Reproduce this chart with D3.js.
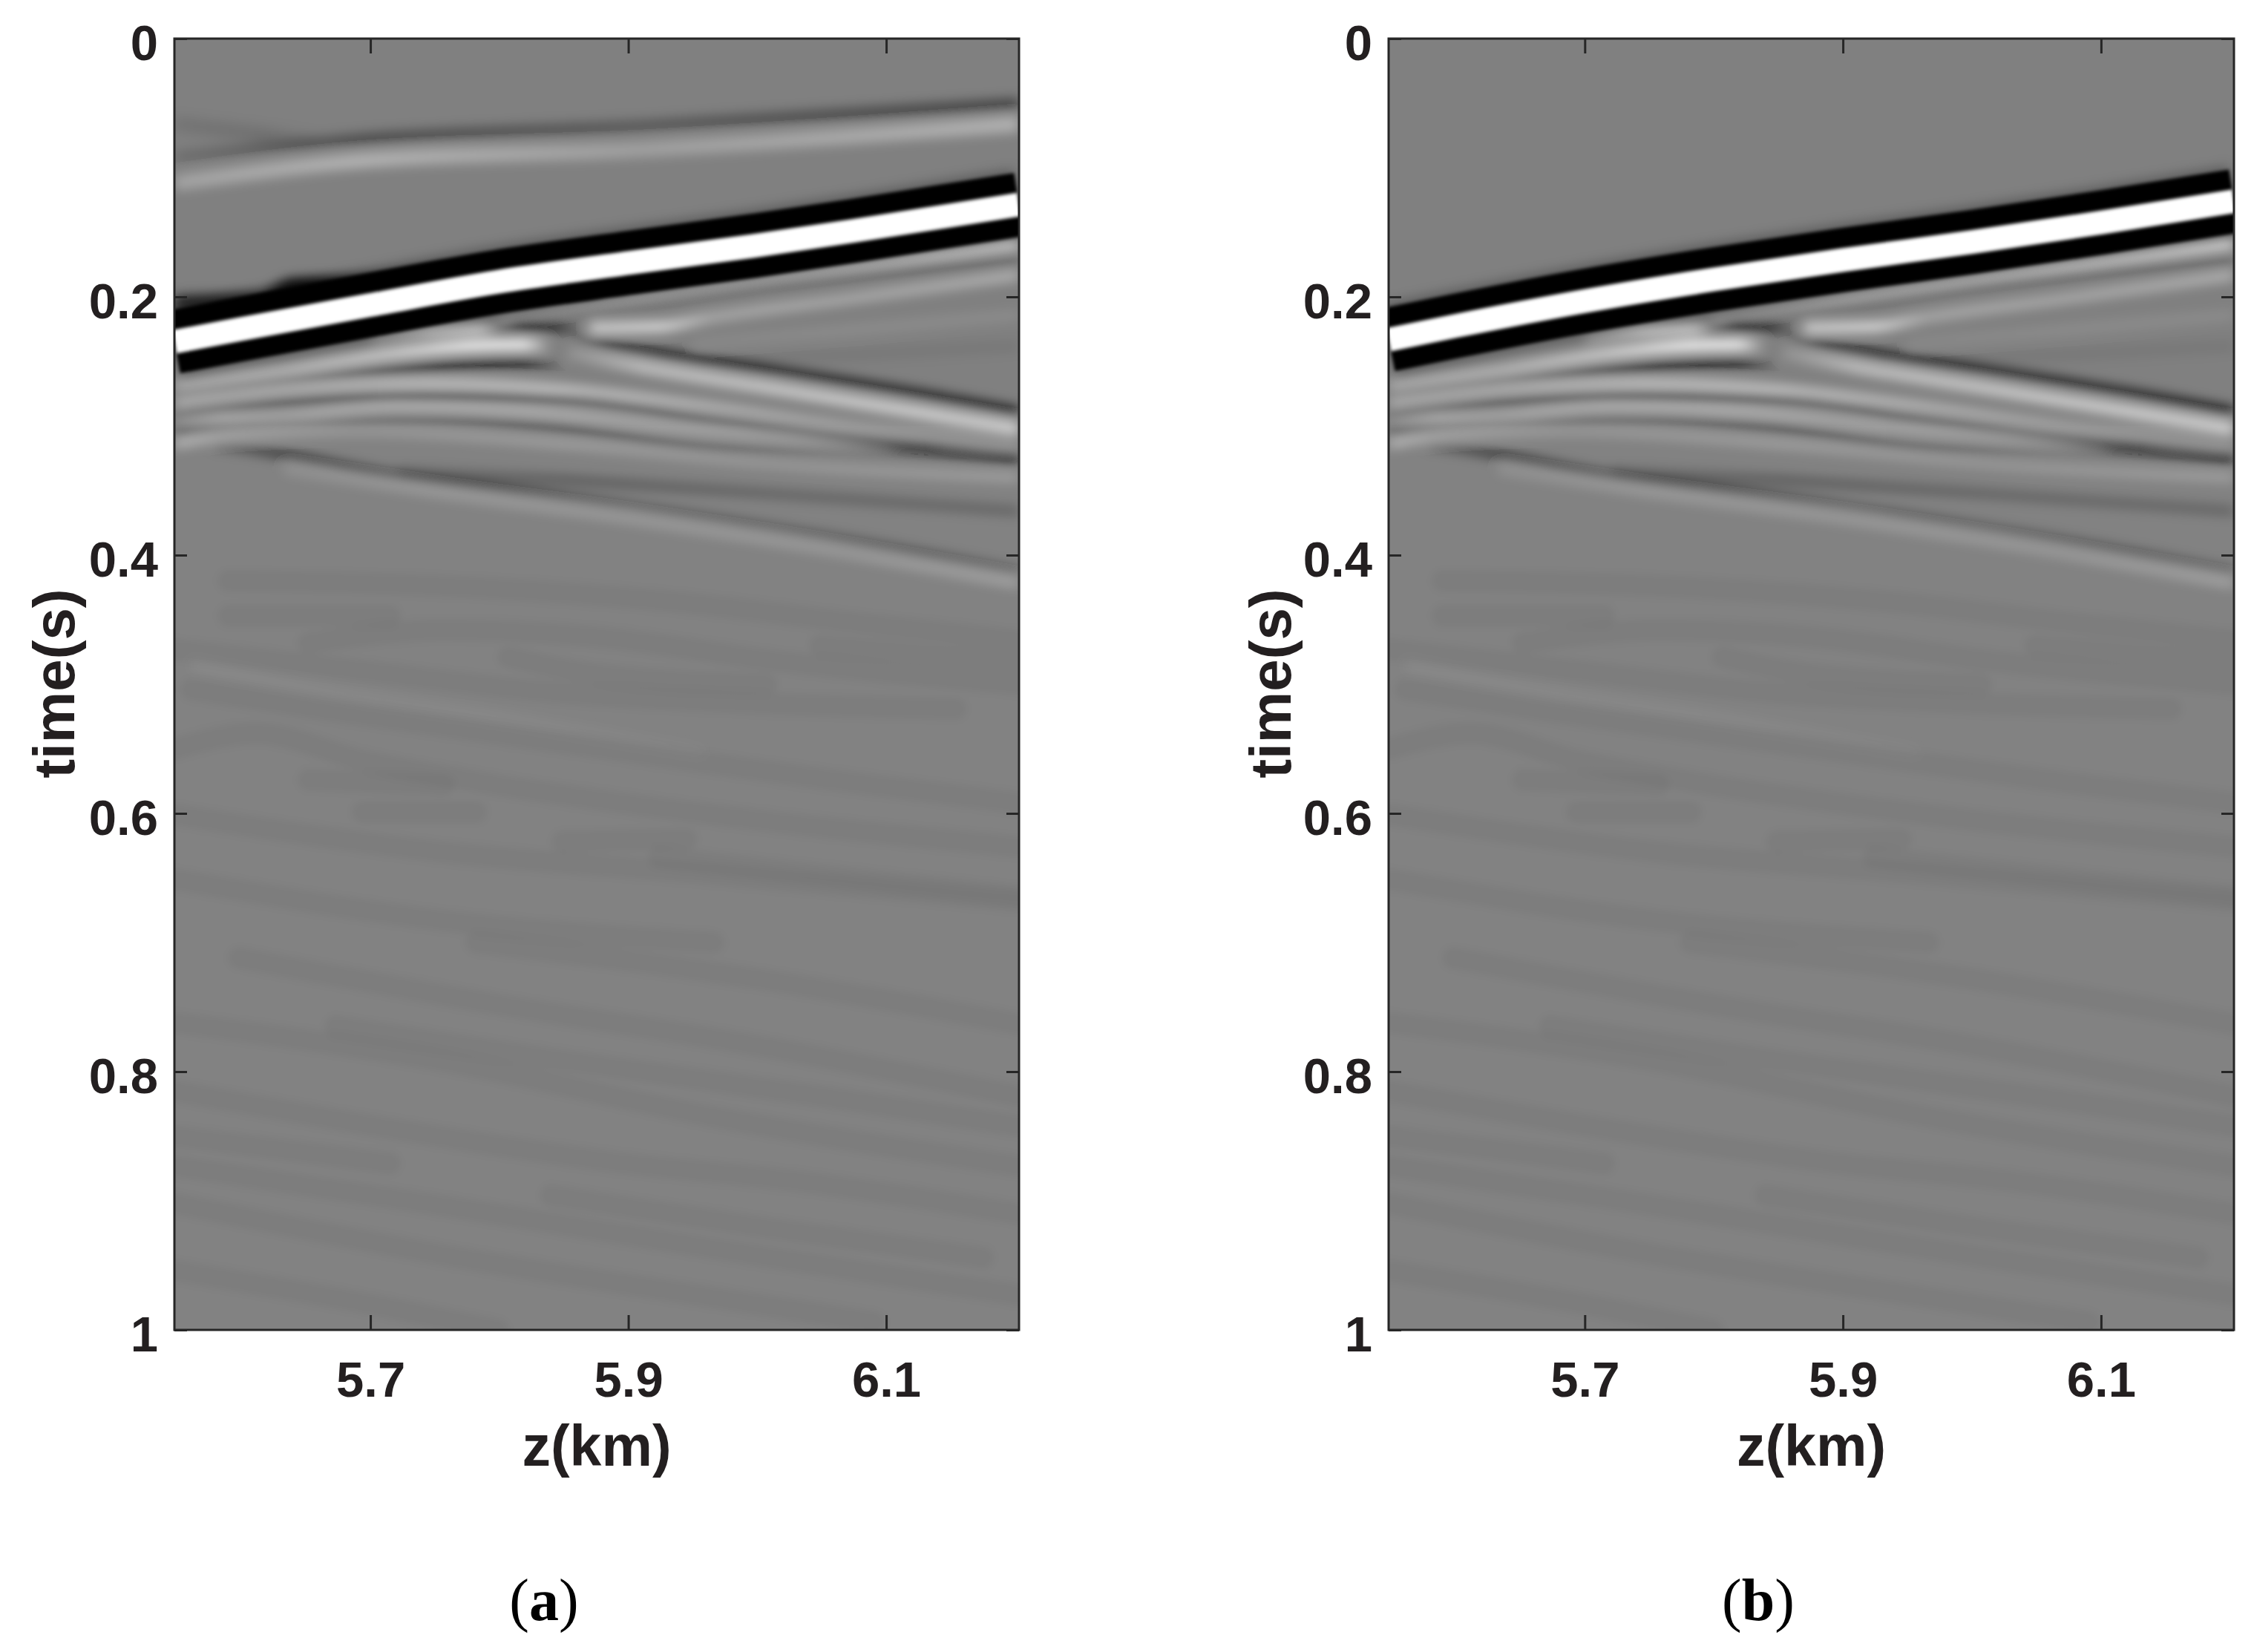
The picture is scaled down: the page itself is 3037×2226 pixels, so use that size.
<!DOCTYPE html>
<html>
<head>
<meta charset="utf-8">
<script src="https://cdn.jsdelivr.net/npm/d3@7"></script>
<style>
  body { margin: 0; background: #fff; }
  svg { display: block; }
  text { font-family: "Liberation Sans", Arial, sans-serif; font-weight: bold; fill: #231f20; }
</style>
</head>
<body>
<svg id="chart" width="3037" height="2226"></svg>
<script>
const zDomain = [5.548, 6.203];
const zTicks = [5.7, 5.9, 6.1];
const tTicks = [0, 0.2, 0.4, 0.6, 0.8, 1];

// direct arrival, [z, t]
const directA = [[5.548,.2348],[5.6,.2249],[5.699,.2065],[5.798,.1885],[5.9,.1738],[5.997,.1605],[6.074,.149],[6.203,.1285]];
const directB = [[5.548,.2332],[5.6,.2225],[5.696,.204],[5.8,.1865],[5.9,.1715],[6,.1575],[6.1,.1425],[6.203,.1259]];

// reflectors, [z, t, amplitude] (amplitude is signed, -1 black, +1 white)
const fanDown1 = [[5.855,.232,-.05],[5.885,.237,-.6],[5.93,.245,-.75],[6.019,.258,-.6],[6.12,.274,-.6],[6.203,.289,-.7]];
const fanDown2 = [[5.853,.243,.1],[5.909,.254,.35],[6.019,.272,.4],[6.129,.29,.45],[6.203,.302,.45]];
const arcBright = [[5.548,.269,.25],[5.633,.257,.3],[5.716,.244,.45],[5.776,.238,.85],[5.82,.237,.85],[5.84,.238,.03]];
const arcUpper = [[5.7,.232,.2],[5.745,.226,.55],[5.785,.225,.5],[5.8,.226,.05]];
const arcDark = [[5.548,.276,-.3],[5.661,.262,-.4],[5.754,.254,-.65],[5.82,.251,-.6],[5.85,.254,-.03]];
const bow1 = [[5.548,.282,.3],[5.633,.272,.3],[5.743,.267,.4],[5.853,.272,.4],[5.964,.285,.3],[6.074,.3,.2],[6.203,.31,.08]];
const bow2 = [[5.548,.292,-.35],[5.633,.282,-.45],[5.743,.277,-.55],[5.853,.279,-.5],[5.964,.295,-.35],[6.074,.31,-.35],[6.203,.325,-.55]];
const bow3 = [[5.548,.295,.35],[5.633,.292,.3],[5.721,.285,.35],[5.826,.289,.35],[5.964,.304,.25],[6.074,.314,.15],[6.203,.317,.08]];
const bow4 = [[5.548,.304,-.5],[5.633,.297,-.3],[5.743,.295,-.3],[5.853,.302,-.4],[5.964,.317,-.3],[6.074,.32,-.15],[6.203,.327,-.2]];
const bow5 = [[5.548,.314,.35],[5.595,.307,.25],[5.688,.304,.15],[5.853,.314,.2],[6.019,.33,.15],[6.203,.34,.2]];
const deep1 = [[5.578,.314,-.2],[5.633,.322,-.45],[5.716,.338,-.4],[5.798,.348,-.4],[5.909,.363,-.25],[6.019,.38,-.25],[6.129,.399,-.3],[6.203,.413,-.25]];
const deep2 = [[5.633,.333,.1],[5.743,.35,.15],[5.909,.373,.15],[6.074,.399,.15],[6.203,.422,.2]];
const deep3 = [[5.721,.335,-.15],[5.853,.342,-.25],[6.019,.353,-.2],[6.203,.366,-.2]];
const fanUp1 = [[5.798,.215,.1],[5.909,.198,.3],[6.019,.182,.4],[6.203,.158,.5]];
const fanUp2 = [[5.809,.219,-.15],[5.909,.206,-.25],[6.019,.19,-.3],[6.203,.172,-.25]];
const fanUp3 = [[5.87,.224,.5],[5.925,.223,.55],[5.964,.216,.25],[6.074,.201,.25],[6.203,.183,.3]];
const fanFaint1 = [[5.95,.236,.05],[6.07,.226,.07],[6.203,.214,.07]];
const fanFaint2 = [[5.95,.25,-.04],[6.07,.245,-.05],[6.203,.238,-.05]];
const crossDark = [[5.79,.224,-.05],[5.82,.224,-.7],[5.845,.224,-.55],[5.865,.226,-.05]];
const thinBright = [[5.561,.485,.07],[5.673,.506,.06],[5.799,.525,.06],[5.958,.552,.03]];

// only in panel (a), the residual above the direct arrival
const residualDark = [[5.548,.092,-.1],[5.699,.078,-.3],[5.909,.068,-.22],[6.203,.051,-.35]];
const residualWhite = [[5.548,.112,.2],[5.688,.095,.28],[5.909,.086,.18],[6.203,.066,.28]];
const residualFaint = [[5.548,.066,-.06],[5.62,.075,-.08],[5.66,.08,-.02]];
const residualSmear = [[5.548,.205,-.5],[5.615,.203,-.55],[5.64,.192,-.8],[5.7,.19,-.85],[5.76,.182,-.6]];

// slow background stripes below 0.4 s, [z, t]
const stripes = [
  [[5.59,.42],[5.757,.424],[5.924,.435],[6.091,.454],[6.203,.466]],
  [[5.59,.447],[5.715,.447]],
  [[5.652,.468],[5.757,.458],[5.882,.464],[6.007,.481],[6.203,.5]],
  [[6.049,.47],[6.203,.483]],
  [[5.548,.473],[5.673,.487],[5.84,.506],[6.007,.515],[6.154,.519]],
  [[5.807,.479],[5.882,.493],[6.007,.5]],
  [[5.561,.504],[5.673,.521],[5.882,.55],[6.049,.573],[6.203,.592]],
  [[5.548,.55],[5.611,.538],[5.694,.559],[5.799,.578],[5.966,.601],[6.203,.626]],
  [[5.652,.574],[5.757,.578]],
  [[5.694,.599],[5.782,.599]],
  [[5.548,.601],[5.757,.63],[5.966,.647],[6.203,.668]],
  [[5.849,.622],[5.945,.62]],
  [[5.924,.634],[6.203,.664]],
  [[5.548,.651],[5.757,.683],[5.966,.7]],
  [[5.598,.712],[5.799,.748],[6.007,.781],[6.203,.819]],
  [[5.782,.7],[5.966,.723],[6.203,.763]],
  [[5.548,.762],[5.757,.792],[5.966,.835],[6.203,.873]],
  [[5.673,.765],[5.84,.79],[6.049,.819],[6.203,.842]],
  [[5.548,.815],[5.715,.844],[5.882,.869],[6.049,.887],[6.203,.91]],
  [[5.548,.85],[5.715,.871]],
  [[5.548,.873],[5.757,.904],[5.966,.937],[6.203,.973]],
  [[5.84,.896],[6.007,.921],[6.175,.944]],
  [[5.548,.902],[5.757,.942],[5.966,.975],[6.091,.994]],
  [[5.548,.954],[5.715,.983],[5.799,1]]
];

const shared = [
  [bow5,.006],[deep3,.006],[deep2,.007],[deep1,.006],[bow4,.006],[bow3,.006],[bow2,.007],[bow1,.007],
  [fanFaint1,.008],[fanFaint2,.008],[fanDown2,.009],[fanDown1,.006],[fanUp2,.006],[fanUp1,.008],[fanUp3,.007],[crossDark,.006],
  [arcDark,.006],[arcUpper,.006],[arcBright,.008],[thinBright,.005]
];
const onlyA = [[residualFaint,.012],[residualWhite,.011],[residualDark,.009],[residualSmear,.012]];

const svg = d3.select("#chart");
svg.append("rect").attr("width", 3037).attr("height", 2226).attr("fill", "#fff");
const defs = svg.append("defs");

[["soft", 8], ["mid", 5], ["edge", 2]].forEach(([id, dev]) => {
  defs.append("filter").attr("id", id)
    .attr("filterUnits", "userSpaceOnUse")
    .attr("x", 0).attr("y", -200).attr("width", 3037).attr("height", 2600)
    .append("feGaussianBlur").attr("stdDeviation", dev);
});

let gradId = 0;

function panel(opts) {
  const { left, right, mainLine, extra, name } = opts;
  const top = 52, bottom = 1792;
  const x = d3.scaleLinear().domain(zDomain).range([left, right]);
  const y = d3.scaleLinear().domain([0, 1]).range([top, bottom]);
  const dt = (d) => y(d) - y(0);
  const line = d3.line().x((d) => x(d[0])).y((d) => y(d[1])).curve(d3.curveMonotoneX);

  defs.append("clipPath").attr("id", "clip" + name)
    .append("rect").attr("x", left).attr("y", top).attr("width", right - left).attr("height", bottom - top);

  const g = svg.append("g");
  const img = g.append("g").attr("clip-path", `url(#clip${name})`);
  img.append("rect").attr("x", left).attr("y", top).attr("width", right - left).attr("height", bottom - top).attr("fill", "#828282");

  // top part of the section is a flat mid grey
  img.append("rect").attr("x", left).attr("y", top).attr("width", right - left).attr("height", dt(0.3)).attr("fill", "#808080");

  img.append("g").attr("filter", "url(#mid)")
    .selectAll("path").data(stripes).join("path")
    .attr("d", line).attr("fill", "none")
    .attr("stroke", "#000").attr("stroke-opacity", 0.04)
    .attr("stroke-width", dt(0.017)).attr("stroke-linecap", "round");

  const ev = img.append("g").attr("filter", "url(#soft)");
  extra.concat(shared).forEach(([pts, width]) => {
    const id = "g" + gradId++;
    const grad = defs.append("linearGradient").attr("id", id)
      .attr("gradientUnits", "userSpaceOnUse")
      .attr("x1", x(pts[0][0])).attr("x2", x(pts[pts.length - 1][0]))
      .attr("y1", 0).attr("y2", 0);
    const span = pts[pts.length - 1][0] - pts[0][0];
    pts.forEach((p) => {
      grad.append("stop").attr("offset", (p[0] - pts[0][0]) / span)
        .attr("stop-color", p[2] > 0 ? "#fff" : "#000")
        .attr("stop-opacity", Math.min(1, Math.abs(p[2]) * 1.5));
    });
    ev.append("path").datum(pts).attr("d", line).attr("fill", "none")
      .attr("stroke", `url(#${id})`).attr("stroke-width", dt(width));
  });

  // direct arrival: black, white, black
  img.append("path").datum(mainLine).attr("d", line).attr("fill", "none")
    .attr("stroke", "#000").attr("stroke-opacity", 0.3).attr("stroke-width", dt(0.055)).attr("filter", "url(#soft)");
  img.append("path").datum(mainLine).attr("d", line).attr("fill", "none")
    .attr("stroke", "#000").attr("stroke-width", dt(0.0495)).attr("filter", "url(#edge)");
  img.append("path").datum(mainLine).attr("d", line).attr("fill", "none")
    .attr("stroke", "#fff").attr("stroke-width", dt(0.0184)).attr("filter", "url(#edge)");

  // axes, ticks point inwards on all four sides
  const axes = g.append("g").style("font-size", "67px");
  const bottomAxis = axes.append("g").attr("transform", `translate(0,${bottom})`)
    .call(d3.axisBottom(x).tickValues(zTicks).tickFormat(d3.format(".1f")).tickSize(-20).tickPadding(42));
  const topAxis = axes.append("g").attr("transform", `translate(0,${top})`)
    .call(d3.axisTop(x).tickValues(zTicks).tickFormat("").tickSize(-20));
  const leftAxis = axes.append("g").attr("transform", `translate(${left},0)`)
    .call(d3.axisLeft(y).tickValues(tTicks).tickFormat((d) => d).tickSize(-17).tickPadding(22));
  const rightAxis = axes.append("g").attr("transform", `translate(${right},0)`)
    .call(d3.axisRight(y).tickValues(tTicks).tickFormat("").tickSize(-17));
  [bottomAxis, topAxis, leftAxis, rightAxis].forEach((a) => {
    a.attr("font-family", null).attr("font-size", null);
    a.select(".domain").remove();
    a.selectAll("line").attr("stroke", "#262626").attr("stroke-width", 3);
  });
  leftAxis.selectAll("text").attr("dy", ".42em");

  g.append("rect").attr("x", left).attr("y", top).attr("width", right - left).attr("height", bottom - top)
    .attr("fill", "none").attr("stroke", "#262626").attr("stroke-width", 3);

  const cx = (left + right) / 2;
  g.append("text").attr("x", cx).attr("y", 1975).attr("text-anchor", "middle")
    .style("font-size", "77px").text("z(km)");
  g.append("text").attr("transform", `translate(${opts.labelX},921) rotate(-90)`)
    .attr("text-anchor", "middle").style("font-size", "78px").text("time(s)");

  const cap = g.append("text").attr("x", opts.captionX).attr("y", 2183).attr("text-anchor", "middle")
    .style("font-size", "80px").style("font-family", "'Liberation Serif', serif")
    .style("font-weight", "normal").style("fill", "#000");
  cap.append("tspan").text("(");
  cap.append("tspan").style("font-weight", "bold").style("fill", "#000").text(name);
  cap.append("tspan").text(")");
}

panel({ name: "a", left: 235, right: 1373, mainLine: directA, extra: onlyA, labelX: 100, captionX: 733 });
panel({ name: "b", left: 1871, right: 3010, mainLine: directB, extra: [], labelX: 1739, captionX: 2369 });
</script>
</body>
</html>
